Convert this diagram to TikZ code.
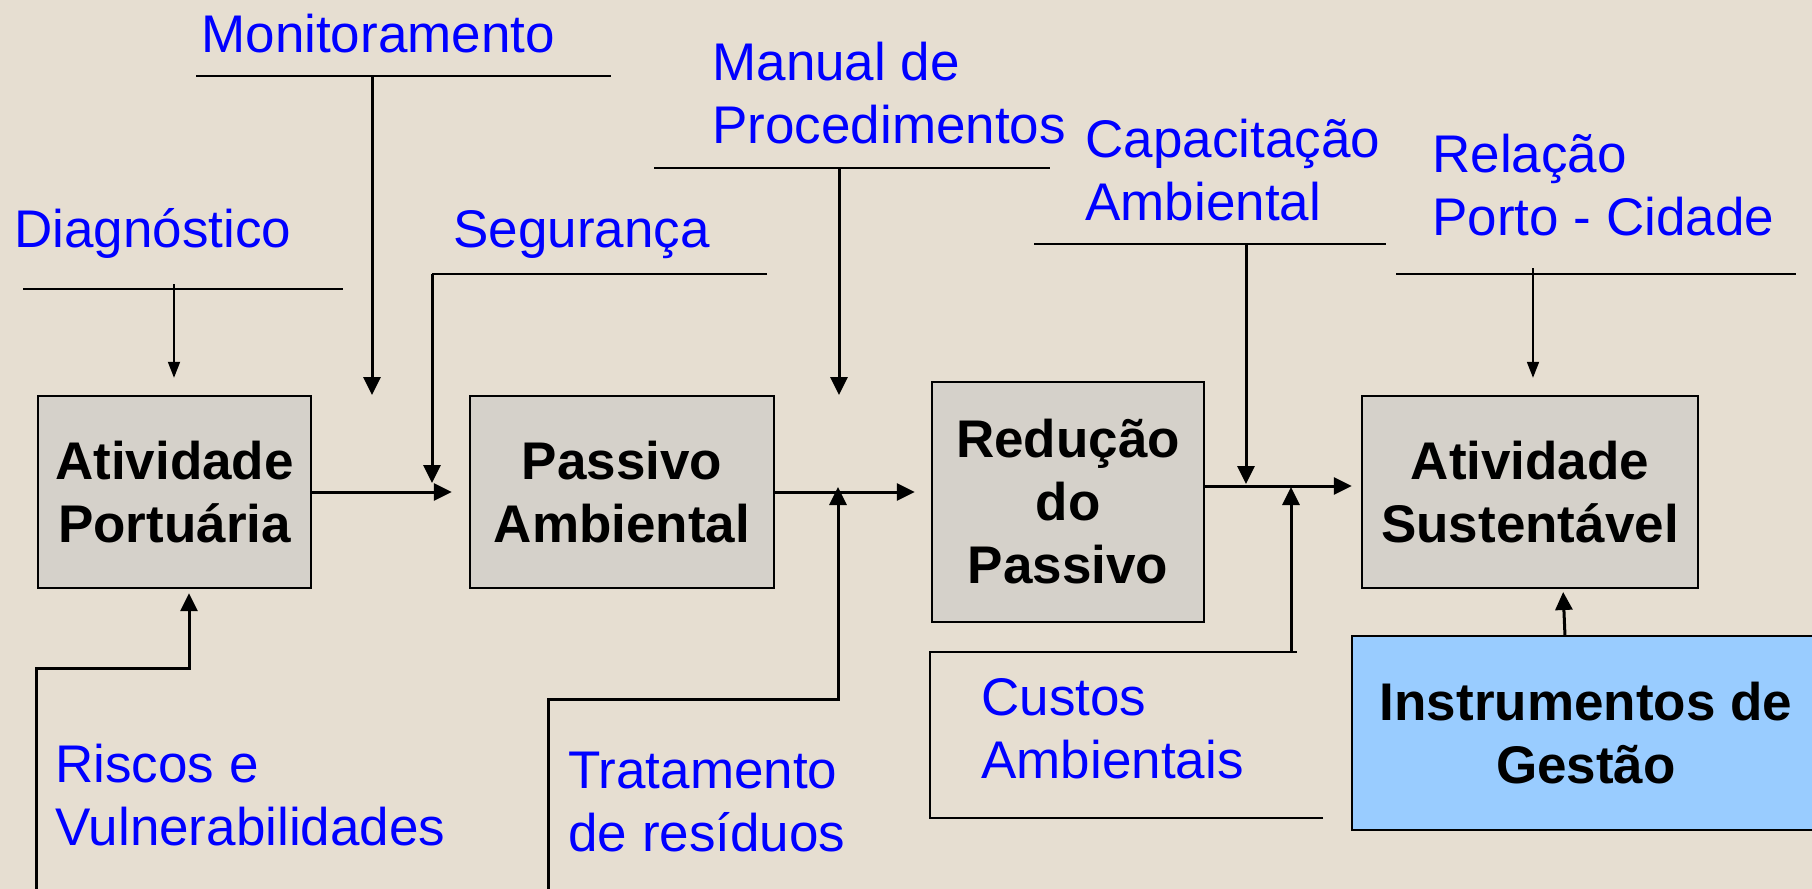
\documentclass[tikz,border=0pt]{standalone}
\usepackage{fontspec}
\setmainfont{Liberation Sans}
\usetikzlibrary{arrows.meta,calc}
\definecolor{bg}{HTML}{E6DED1}
\definecolor{boxgrey}{HTML}{D5D1CA}
\definecolor{igblue}{HTML}{99CCFF}
\definecolor{lblue}{HTML}{0000FF}
\tikzset{
  lbl/.style={anchor=base west, inner sep=0pt, text=lblue, font=\fontsize{26.5}{31.5}\selectfont},
  procbox/.style={draw=black, line width=1.2pt, fill=boxgrey, inner sep=0pt, align=center, font=\fontsize{26.5}{31.5}\selectfont\bfseries},
  rulerline/.style={line width=1.3pt},
  thinrule/.style={line width=1pt},
  arr/.style={line width=1.5pt, -{Triangle[length=9pt,width=8.5pt]}},
  thinarr/.style={line width=0.9pt, -{Triangle[length=8pt,width=6pt]}},
}
\begin{document}
\begin{tikzpicture}[x=0.5pt,y=-0.5pt]
\fill[bg] (0,0) rectangle (1812,889);
\useasboundingbox (0,0) rectangle (1812,889);
\clip (0,0) rectangle (1812,889);

% boxes
\node[procbox, minimum width=136.5pt, minimum height=96pt] (AP) at (174.5,492) {Atividade\\Portuária};
\node[procbox, minimum width=152pt, minimum height=96pt] (PA) at (622,492) {Passivo\\Ambiental};
\node[procbox, minimum width=136pt, minimum height=120pt] (RP) at (1068,502) {Redução\\do\\Passivo};
\node[procbox, minimum width=168pt, minimum height=96pt] (AS) at (1530,492) {Atividade\\Sustentável};
\node[procbox, fill=igblue, minimum width=234pt, minimum height=97pt] (IG) at (1586,733) {Instrumentos de\\Gestão};

% labels
\node[lbl] (mon) at (201,52) {Monitoramento};
\node[lbl] (diag) at (14,247) {Diagnóstico};
\node[lbl] (seg) at (453,247) {Segurança};
\node[lbl] (man) at (712,80) {\vtop{\hbox{Manual de}\hbox{Procedimentos}}};
\node[lbl] (cap) at (1085,157) {\vtop{\hbox{Capacitação}\hbox{Ambiental}}};
\node[lbl] (rel) at (1432,172) {\vtop{\hbox{Relação}\hbox{Porto - Cidade}}};
\node[lbl] (risc) at (55,782) {\vtop{\hbox{Riscos e}\hbox{Vulnerabilidades}}};
\node[lbl] (trat) at (568,788) {\vtop{\hbox{Tratamento}\hbox{de resíduos}}};
\node[lbl] (cus) at (981,715) {\vtop{\hbox{Custos}\hbox{Ambientais}}};

% coordinates
\coordinate (diagL) at (23,289); \coordinate (diagR) at (343,289); \coordinate (diagS) at (174,284);
\coordinate (monL) at (196,76); \coordinate (monR) at (611,76); \coordinate (monS) at (372,76); \coordinate (monE) at (372,395);
\coordinate (segL) at (432,274); \coordinate (segR) at (767,274); \coordinate (segE) at (432,483);
\coordinate (manL) at (654,168); \coordinate (manR) at (1050,168); \coordinate (manS) at (839,168); \coordinate (manE) at (839,395);
\coordinate (tratA) at (548,889); \coordinate (tratB) at (548,699); \coordinate (tratC) at (838,699); \coordinate (tratE) at (838,487);
\coordinate (riscA) at (36,889); \coordinate (riscB) at (36,668); \coordinate (riscC) at (189,668);
\coordinate (capL) at (1034,244); \coordinate (capR) at (1386,244); \coordinate (capS) at (1246,244); \coordinate (capE) at (1246,484);
\coordinate (rpOut) at (1204,486);
\coordinate (cusA) at (1323,818); \coordinate (cusB) at (930,818); \coordinate (cusC) at (930,652); \coordinate (cusD) at (1297,652);
\coordinate (cusS) at (1291,652); \coordinate (cusE) at (1291,487);
\coordinate (relL) at (1396,274); \coordinate (relR) at (1796,274); \coordinate (relS) at (1533,268);
\coordinate (igS) at (1565,636); \coordinate (asIn) at (1563,588);

% label rules and arrows
\draw[thinrule] (diagL) -- (diagR);
\draw[thinarr, shorten >=8.5pt] (diagS) -- (diagS |- AP.north);
\draw[rulerline] (monL) -- (monR);
\draw[arr] (monS) -- (monE);
\draw[rulerline] (segR) -- (segL);
\draw[arr] (segL) -- (segE);
\draw[rulerline] (manL) -- (manR);
\draw[arr] (manS) -- (manE);
\draw[rulerline] (capL) -- (capR);
\draw[arr] (capS) -- (capE);
\draw[thinrule] (relL) -- (relR);
\draw[thinarr, shorten >=8.5pt] (relS) -- (relS |- AS.north);

% main flow
\draw[arr, shorten >=8.5pt] (AP.east) -- (PA.west);
\draw[arr, shorten >=8pt] (PA.east) -- (PA.east -| RP.west);
\draw[arr, shorten >=4.5pt] (rpOut) -- (rpOut -| AS.west);

% bottom inputs
\draw[arr, shorten >=2pt] (riscA) -- (riscB) -- (riscC) -- (riscC |- AP.south);
\draw[arr] (tratA) -- (tratB) -- (tratC) -- (tratE);
\draw[rulerline] (cusA) -- (cusB) -- (cusC) -- (cusD);
\draw[arr] (cusS) -- (cusE);
\draw[arr, shorten >=2pt] (igS) -- (asIn);
\end{tikzpicture}
\end{document}
